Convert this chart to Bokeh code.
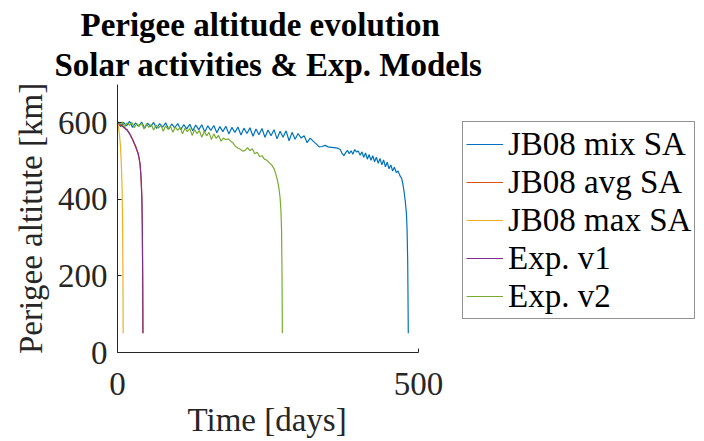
from bokeh.plotting import figure
from bokeh.models import Range1d, FixedTicker, Legend, LegendItem, Title
from bokeh.embed import file_html
from bokeh.resources import INLINE

# ---- data ----
mix_t = [0, 5, 10, 15, 20, 25, 30, 35, 40, 45, 50, 55, 60, 65, 70, 75, 80, 85, 90, 95,
         100, 105, 110, 115, 120, 125, 130, 135, 140, 145, 150, 155, 160, 165, 170, 175,
         180, 185, 190, 195, 200, 205, 210, 215, 220, 225, 230, 235, 240, 245, 250, 255,
         260, 265, 270, 275, 280, 285, 290, 295, 300, 305, 310, 315, 320, 325, 330, 335,
         340, 345, 350, 355, 360, 365, 370, 373, 376, 379, 382, 385, 388, 391, 394, 397,
         400, 403, 406, 409, 412, 415, 418, 421, 424, 427, 430, 433, 436, 439, 442, 445,
         448, 451, 454, 457, 460, 463, 466, 469, 472, 474, 476, 478, 480, 481, 482, 482.5, 483]
mix_h = [603, 590, 601, 592, 604, 588, 600, 591, 602, 586, 599, 590, 601, 585, 598, 589,
         600, 583, 597, 587, 598, 582, 595, 584, 596, 579, 594, 582, 595, 576, 592, 580,
         593, 574, 590, 577, 591, 571, 588, 575, 589, 568, 586, 572, 587, 565, 584, 569,
         585, 562, 581, 566, 582, 558, 578, 562, 579, 553, 575, 557, 572, 560, 566, 548,
         560, 552, 545, 537, 538, 541, 537, 536, 535, 534, 530, 520, 514, 522, 528, 519,
         527, 518, 530, 524, 526, 515, 524, 510, 521, 505, 517, 502, 514, 498, 510, 494,
         507, 490, 503, 485, 497, 480, 490, 474, 484, 470, 474, 462, 455, 440, 420, 395,
         360, 320, 240, 150, 50]

avg_t = [0, 2, 4, 6, 8, 10, 12, 14, 16, 18, 20, 22, 24, 26, 28, 30, 32, 34, 36, 37.5,
         38.5, 39.5, 40.5, 41.2, 41.8, 42.2]
avg_h = [600, 596, 598, 592, 594, 587, 589, 582, 583, 575, 573, 565, 560, 552, 545, 537,
         528, 520, 505, 490, 470, 440, 400, 330, 200, 50]

max_t = [0, 1, 2, 3, 4, 5, 6, 7, 7.7, 8.4, 8.9, 9.2, 9.4]
max_h = [598, 592, 584, 572, 557, 536, 505, 462, 423, 340, 240, 150, 50]

v1_t = [0, 2, 4, 6, 8, 10, 12, 14, 16, 18, 20, 22, 24, 26, 28, 30, 32, 34, 36, 37.5,
        38.5, 39.5, 40.5, 41.2, 41.8, 42.3]
v1_h = [601, 598, 596, 594, 591, 589, 586, 584, 580, 577, 571, 567, 559, 554, 546, 540,
        530, 522, 508, 492, 472, 445, 405, 335, 210, 50]

v2_t = [0, 4, 8, 12, 16, 20, 24, 28, 32, 36, 40, 44, 48, 52, 56, 60, 64, 68, 72, 76,
        80, 84, 88, 92, 96, 100, 104, 108, 112, 116, 120, 124, 128, 132, 136, 140, 144,
        148, 152, 156, 160, 164, 168, 172, 176, 180, 184, 188, 192, 196, 200, 204, 208,
        212, 216, 220, 224, 228, 232, 236, 240, 244, 248, 252, 256, 260, 263, 266, 268,
        270, 271.5, 272.5, 273.3, 273.8]
v2_h = [603, 596, 602, 590, 600, 593, 601, 587, 598, 591, 599, 584, 597, 588, 596, 581,
        594, 586, 594, 578, 592, 583, 591, 575, 589, 580, 588, 571, 586, 577, 585, 567,
        582, 572, 580, 562, 578, 566, 575, 556, 571, 559, 567, 552, 560, 556, 558, 552,
        547, 538, 534, 531, 526, 528, 535, 527, 532, 519, 523, 512, 514, 505, 502, 496,
        490, 480, 466, 448, 430, 405, 370, 320, 200, 50]

series_names = ["JB08 mix SA", "JB08 avg SA", "JB08 max SA", "Exp. v1", "Exp. v2"]
series_colors = ["#0072BD", "#D95319", "#EDB120", "#7E2F8E", "#77AC30"]
title_lines = ["Perigee altitude evolution", "Solar activities & Exp. Models"]
x_label = "Time [days]"
y_label = "Perigee altitute [km]"
x_ticks = [0, 500]
y_ticks = [0, 200, 400, 600]

FONT = "Liberation Serif"
AX = "#262626"

# frame spans 117..704 px; data axis 0..500 occupies 117..418 px,
# the rest of the frame holds the legend (as in the reference)
p = figure(width=704, height=441, output_backend="svg", toolbar_location=None,
           x_range=Range1d(0, 975), y_range=Range1d(0, 700),
           min_border_left=117, min_border_right=0, min_border_top=84,
           min_border_bottom=89)
p.title = None
p.outline_line_color = None
p.background_fill_color = "white"
p.border_fill_color = "white"
p.xgrid.visible = False
p.ygrid.visible = False

# second line first (closest to the plot), then first line above it
for txt, off, sb in ((title_lines[1], -63, 4), (title_lines[0], -37, 0)):
    p.add_layout(Title(text=txt, align="left", offset=off, text_font=FONT,
                       text_font_size="33px", text_font_style="bold",
                       text_color="black", standoff=sb), "above")

for ax in (p.xaxis[0], p.yaxis[0]):
    ax.axis_line_color = AX
    ax.axis_line_width = 1
    ax.major_tick_in = 4
    ax.major_tick_out = 0
    ax.major_tick_line_color = AX
    ax.minor_tick_line_color = None
    ax.major_label_text_font = FONT
    ax.major_label_text_font_size = "33px"
    ax.major_label_text_color = AX
    ax.axis_label_text_font = FONT
    ax.axis_label_text_font_size = "33px"
    ax.axis_label_text_font_style = "normal"
    ax.axis_label_text_color = AX

p.xaxis.bounds = (0, 500)
p.xaxis.ticker = FixedTicker(ticks=x_ticks)
p.yaxis.ticker = FixedTicker(ticks=y_ticks)
p.yaxis.axis_label = y_label
p.xaxis.major_label_standoff = 20
p.yaxis.major_label_standoff = 10
p.yaxis.axis_label_standoff = 6

# x-axis label centred under the 0..500 axis
p.add_layout(Title(text=x_label, align="left", offset=70, text_font=FONT,
                   text_font_size="33px", text_font_style="normal",
                   text_color=AX, standoff=4), "below")

data = [(mix_t, mix_h), (avg_t, avg_h), (max_t, max_h), (v1_t, v1_h), (v2_t, v2_h)]
renderers = []
for (t, h), c in zip(data, series_colors):
    renderers.append(p.line(t, h, line_color=c, line_width=1.2))

items = [LegendItem(label=n, renderers=[r]) for n, r in zip(series_names, renderers)]
legend = Legend(items=items, location=(345, 33), orientation="vertical",
                label_text_font=FONT, label_text_font_size="33px",
                label_text_color="black", glyph_width=37, glyph_height=38,
                label_height=38, label_standoff=5, padding=3, spacing=0, margin=0,
                border_line_color=AX, border_line_width=1,
                background_fill_color="white", background_fill_alpha=1)
p.add_layout(legend)

open("out.html", "w").write(file_html(p, INLINE))
